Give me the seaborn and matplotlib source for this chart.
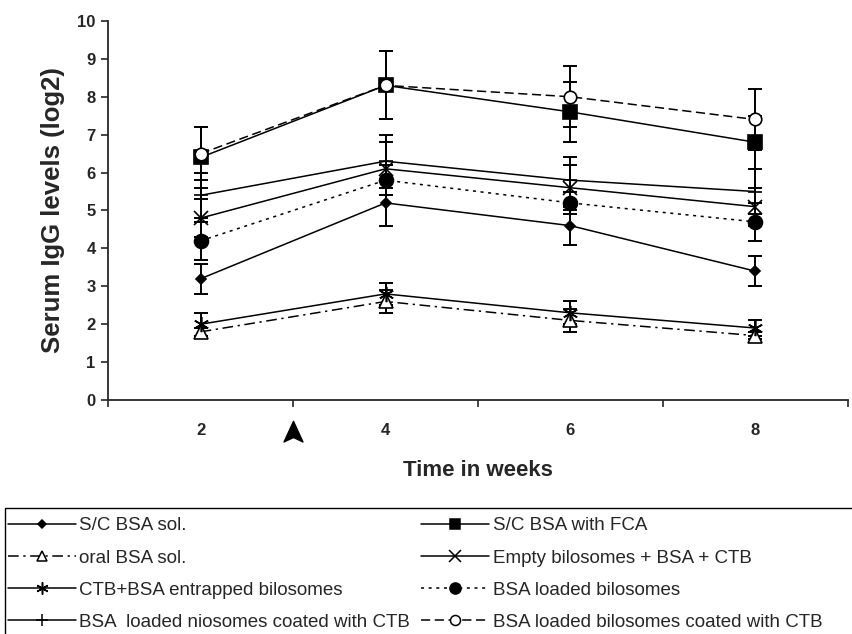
import matplotlib
matplotlib.use("Agg")
import matplotlib.pyplot as plt
import seaborn as sns
from matplotlib.lines import Line2D
from matplotlib.path import Path
from matplotlib.patches import Rectangle
import matplotlib.transforms as mtransforms

weeks = ["2", "4", "6", "8"]

sc_sol = [3.2, 5.2, 4.6, 3.4]
sc_sol_err = [0.4, 0.6, 0.5, 0.4]
sc_fca = [6.4, 8.3, 7.6, 6.8]
sc_fca_err = [0.8, 0.9, 0.8, 0.7]
oral_sol = [1.8, 2.6, 2.1, 1.7]
oral_sol_err = [0.1, 0.3, 0.3, 0.1]
empty_bil = [4.8, 6.1, 5.6, 5.1]
empty_bil_err = [0.5, 0.7, 0.6, 0.5]
ctb_entr = [2.0, 2.8, 2.3, 1.9]
ctb_entr_err = [0.3, 0.3, 0.3, 0.2]
bsa_bil = [4.2, 5.8, 5.2, 4.7]
bsa_bil_err = [0.5, 0.4, 0.3, 0.5]
nio_ctb = [5.4, 6.3, 5.8, 5.5]
nio_ctb_err = [0.6, 0.7, 0.6, 0.6]
bil_ctb = [6.5, 8.3, 8.0, 7.4]
bil_ctb_err = [0.7, 0.9, 0.8, 0.8]

sns.set_style("ticks")
plt.rcParams['font.family'] = ['Liberation Sans', 'DejaVu Sans']

fig = plt.figure(figsize=(8.52, 6.34), dpi=100)
ax = fig.add_axes([0.127, 0.369, 0.868, 0.598])

pos = list(range(len(weeks)))

# label, values, errors, marker, size, face, linestyle
series = [
    ("S/C BSA sol.", sc_sol, sc_sol_err, "D", 5.5, "k", "-"),
    ("S/C BSA with FCA", sc_fca, sc_fca_err, "s", 9.5, "k", "-"),
    ("oral BSA sol.", oral_sol, oral_sol_err, "^", 9.5, "white", (0, (7, 3, 1.5, 3))),
    ("Empty bilosomes + BSA + CTB", empty_bil, empty_bil_err, "x", 10, "k", "-"),
    ("CTB+BSA entrapped bilosomes", ctb_entr, ctb_entr_err, (6, 2, 0), 11, "k", "-"),
    ("BSA loaded bilosomes", bsa_bil, bsa_bil_err, "o", 10, "k", (0, (2, 3))),
    ("BSA  loaded niosomes coated with CTB", nio_ctb, nio_ctb_err, "+", 10, "k", "-"),
    ("BSA loaded bilosomes coated with CTB", bil_ctb, bil_ctb_err, "o", 9, "white", (0, (6, 3))),
]

handles = {}
for label, vals, errs, mk, ms, fc, ls in series:
    ax.errorbar(pos, vals, yerr=errs, fmt="none", ecolor="k", elinewidth=1.4,
                capsize=5, capthick=1.4, zorder=2)
    sns.lineplot(x=pos, y=vals, ax=ax, color="k", linewidth=1.1, linestyle=ls,
                 marker=mk, markersize=ms, markerfacecolor=fc, markeredgecolor="k",
                 markeredgewidth=1.2, zorder=3)
    handles[label] = Line2D([], [], color="k", linewidth=1.1, linestyle=ls, marker=mk,
                            markersize=ms * 0.8, markerfacecolor=fc,
                            markeredgecolor="k", markeredgewidth=1.1)

ax.set_xlim(-0.5, len(weeks) - 0.5)
ax.set_ylim(0, 10)
ax.set_yticks(range(0, 11))
ax.set_xticks([p - 0.5 for p in range(len(weeks) + 1)])
ax.set_xticklabels([])
ax.set_xticks(pos, minor=True)
ax.set_xticklabels(weeks, minor=True)
ax.tick_params(axis="x", which="minor", length=0, pad=16.5, labelsize=12)
ax.tick_params(axis="x", which="major", length=5, width=1.2, direction="out")
ax.tick_params(axis="y", length=5, width=1.2, labelsize=12, pad=4)
for t in ax.get_xticklabels(minor=True) + ax.get_yticklabels():
    t.set_fontweight("bold")
for s in ["top", "right"]:
    ax.spines[s].set_visible(False)
for s in ["left", "bottom"]:
    ax.spines[s].set_linewidth(1.3)

ax.set_xlabel("Time in weeks", fontsize=16, fontweight="bold", labelpad=16)
ax.set_ylabel("Serum IgG levels (log2)", fontsize=18.5, fontweight="bold", labelpad=9)

# booster arrow under the axis, between week 2 and week 4
arrow = Path([(0, 1), (0.85, -0.85), (0, -0.45), (-0.85, -0.85), (0, 1)],
             [Path.MOVETO, Path.LINETO, Path.LINETO, Path.LINETO, Path.CLOSEPOLY])
trans = mtransforms.blended_transform_factory(ax.transData, ax.transAxes)
ax.plot([0.5], [-0.085], marker=arrow, markersize=16, color="k",
        transform=trans, clip_on=False)

order = ["S/C BSA sol.", "oral BSA sol.", "CTB+BSA entrapped bilosomes",
         "BSA  loaded niosomes coated with CTB", "S/C BSA with FCA",
         "Empty bilosomes + BSA + CTB", "BSA loaded bilosomes",
         "BSA loaded bilosomes coated with CTB"]
leg = fig.legend([handles[k] for k in order], order, ncol=2, loc="upper left",
                 bbox_to_anchor=(0.0094, 0.184), frameon=False,
                 fontsize=13.5, handlelength=3.6, handletextpad=0.2,
                 columnspacing=0.6, labelspacing=0.8, borderaxespad=0, borderpad=0)

# legend box runs off the right and bottom edges as in the source
fig.add_artist(Rectangle((0.006, -0.05), 1.05, 0.249, transform=fig.transFigure,
                         fill=False, edgecolor="k", linewidth=1.0))

fig.savefig("out.png", dpi=100)
